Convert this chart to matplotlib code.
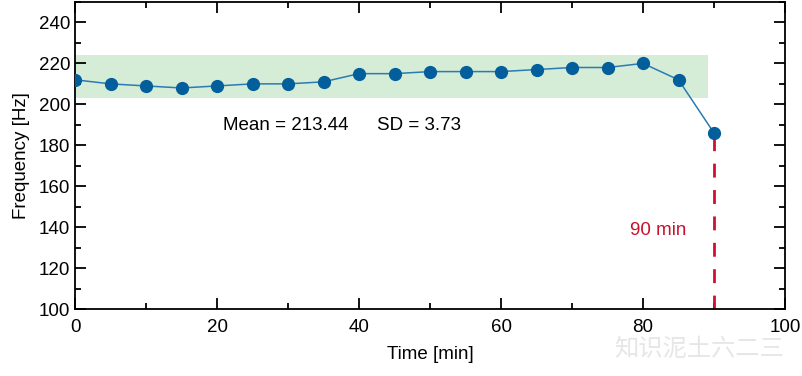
import matplotlib
matplotlib.use('Agg')
import matplotlib.pyplot as plt
from matplotlib.ticker import MultipleLocator

plt.rcParams['font.family'] = ['Liberation Sans', 'Noto Sans CJK SC', 'DejaVu Sans']

# data
time_min = [0, 5, 10, 15, 20, 25, 30, 35, 40, 45, 50, 55, 60, 65, 70, 75, 80, 85, 90]
freq_hz = [212, 210, 209, 208, 209, 210, 210, 211, 215, 215, 216, 216, 216, 217, 218, 218, 220, 212, 186]
band_low, band_high = 202.9, 223.9
band_end = 89.2
mean_text = 'Mean = 213.44'
sd_text = 'SD = 3.73'
cut_time = 90

fig = plt.figure(figsize=(8.03, 3.76), dpi=100)
ax = fig.add_axes([0.0934, 0.178, 0.8842, 0.8167])

ax.fill_between([0, band_end], band_low, band_high, color='#d5ecd6', zorder=1, linewidth=0)
ax.plot(time_min, freq_hz, '-', color='#2b7bb3', linewidth=1.1, zorder=3)
ax.plot(time_min, freq_hz, 'o', color='#035e9c', markersize=8.5, zorder=4)
ax.plot([cut_time, cut_time], [100, freq_hz[-1]], '--', color='#d0102f', linewidth=2,
        dashes=(5, 4.5), zorder=2)

fs = 13.5
ax.text(20.8, 189.5, mean_text, fontsize=fs, va='center')
ax.text(42.5, 189.5, sd_text, fontsize=fs, va='center')
ax.text(78.2, 138.5, '90 min', fontsize=fs, va='center', color='#c8102e')

ax.set_xlim(0, 100)
ax.set_ylim(100, 250)
ax.set_xticks([0, 20, 40, 60, 80, 100])
ax.set_yticks([100, 120, 140, 160, 180, 200, 220, 240])
ax.xaxis.set_minor_locator(MultipleLocator(10))
ax.yaxis.set_minor_locator(MultipleLocator(10))
ax.tick_params(which='both', direction='in', top=True, right=True, labelsize=fs, width=1.3)
ax.tick_params(which='major', length=8)
ax.tick_params(which='minor', length=4)
ax.tick_params(axis='x', pad=7)
for s in ax.spines.values():
    s.set_linewidth(1.3)

ax.set_xlabel('Time [min]', fontsize=fs, labelpad=7)
ax.set_ylabel('Frequency [Hz]', fontsize=fs, labelpad=6)

fig.text(0.870, 0.072, '知识泥土六二三', fontsize=17.5, color='#e6e6e6', ha='center', va='center',
         family=['Noto Sans CJK SC', 'DejaVu Sans'])

fig.savefig('out.png', dpi=100)
